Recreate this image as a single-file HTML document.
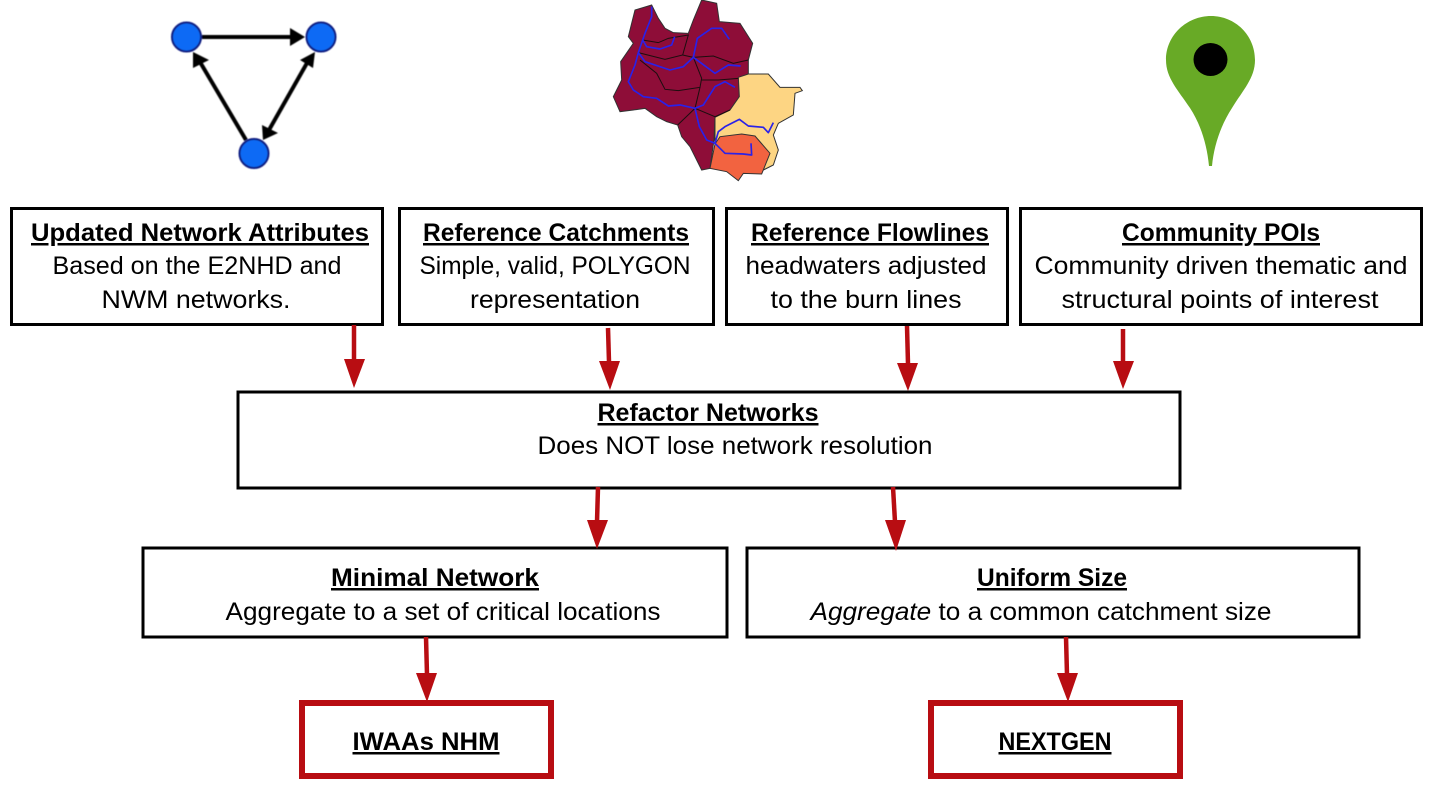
<!DOCTYPE html>
<html><head><meta charset="utf-8"><style>
html,body{margin:0;padding:0;background:#fff}
svg{display:block}
text{font-family:"Liberation Sans",sans-serif;font-size:25px;fill:#000;text-anchor:middle}
.b{font-weight:bold;text-decoration:underline}
</style></head><body>
<svg width="1433" height="796" viewBox="0 0 1433 796" xmlns="http://www.w3.org/2000/svg">
<defs>
<filter id="s" x="-5%" y="-5%" width="110%" height="110%"><feGaussianBlur stdDeviation="0.45"/></filter>
</defs>
<!-- graph icon -->
<g filter="url(#s)">
<g stroke="#000" stroke-width="4" fill="none">
<line x1="202" y1="37" x2="293" y2="37"/>
<line x1="246" y1="140" x2="200" y2="62"/>
<line x1="269" y1="130" x2="307" y2="63"/>
</g>
<g fill="#000">
<path d="M305,37L290,28V46Z"/>
<path d="M193,52L209,60L193,68Z"/>
<path d="M315,52L300,60L313,68Z"/>
<path d="M263,140L262,125L278,133Z"/>
</g>
<g fill="#0a6bf5" stroke="#0a1a80" stroke-width="2">
<circle cx="186.500" cy="37" r="14.500"/>
<circle cx="321" cy="37" r="14.500"/>
<circle cx="254" cy="153.500" r="14.500"/>
</g>
</g>
<!-- map -->
<g transform="translate(600,0) scale(.33333)" filter="url(#s)">
<path d="M155,15L175,55L195,85L220,98L265,100L280,60L305,0L350,10L358,65L420,70L458,130L445,180L445,222L415,235L418,290L390,330L345,352L342,420L330,505L305,510L270,440L245,410L233,375L200,365L170,350L135,325L100,330L60,335L40,290L65,240L62,185L100,130L85,110L105,30Z" fill="#8e0a38" stroke="#333" stroke-width="3"/>
<path d="M415,232L445,222L505,222L540,262L600,262L607,272L585,280L580,345L535,370L520,405L535,450L520,495L490,510L345,430L345,352L390,330L418,290Z" fill="#fdd583" stroke="#333" stroke-width="3"/>
<path d="M345,432L360,410L425,402L465,408L510,460L485,522L430,520L415,542L380,515L330,505Z" fill="#f26340" stroke="#333" stroke-width="3"/>
<g fill="none" stroke="#1a0a10" stroke-width="3">
<path d="M128,120L175,128L205,115L265,105L248,165L195,178L115,158"/>
<path d="M248,165L280,172L340,168L400,190L445,180"/>
<path d="M280,172L305,235L300,262L235,272L195,268L170,220L120,180"/>
<path d="M305,240L355,240L415,235"/>
<path d="M300,262L285,325L345,350L390,330"/>
<path d="M285,325L233,375"/>
</g>
<g fill="none" stroke="#2a20e8" stroke-width="5" stroke-linejoin="round">
<path d="M155,20L155,50L135,100L128,120L115,158L105,195L85,245L100,270L130,290L170,295L205,318L240,315L285,325L298,380L320,420L345,430L375,460L430,462L455,465L453,430"/>
<path d="M128,120L140,140L180,147L215,135L224,110"/>
<path d="M115,158L135,185L210,210L250,200L280,172L292,115L335,85L365,85L388,118"/>
<path d="M280,172L345,220L385,195L422,198"/>
<path d="M285,325L310,315L345,260L375,245L405,262"/>
<path d="M345,430L355,395L375,380L418,358L445,378L490,382L505,398L520,368"/>
</g>
</g>
<!-- pin -->
<path d="M1211,16C1187,16 1166,35 1166,60C1166,78 1178,90 1190,108C1201,125 1207,145 1209,166H1212C1214,145 1221,125 1232,108C1243,90 1255,78 1255,60C1255,35 1235,16 1211,16Z" fill="#68aa26"/>
<ellipse cx="1210.500" cy="59.500" rx="17" ry="16.500" fill="#000"/>
<!-- boxes -->
<g fill="#fff" stroke="#000" stroke-width="3">
<rect x="11.500" y="208.500" width="371" height="116"/>
<rect x="399.500" y="208.500" width="314" height="116"/>
<rect x="726.500" y="208.500" width="281" height="116"/>
<rect x="1020.500" y="208.500" width="401" height="116"/>
<rect x="238" y="392" width="942" height="96"/>
<rect x="143" y="548" width="584" height="89"/>
<rect x="747" y="548" width="612" height="89"/>
</g>
<g fill="#fff" stroke="#b80d12" stroke-width="6">
<rect x="302" y="703" width="249" height="73"/>
<rect x="931" y="703" width="249" height="73"/>
</g>
<!-- red arrows -->
<g stroke="#b80d12" stroke-width="4.500">
<line x1="354" y1="325" x2="354" y2="362"/>
<line x1="608" y1="328" x2="609" y2="362"/>
<line x1="907" y1="326" x2="908" y2="364"/>
<line x1="1123" y1="329" x2="1123" y2="362"/>
<line x1="598" y1="487" x2="597" y2="522"/>
<line x1="893" y1="487" x2="895" y2="522"/>
<line x1="426" y1="637" x2="427" y2="675"/>
<line x1="1066" y1="637" x2="1067" y2="675"/>
</g>
<g fill="#b80d12">
<path d="M344,359H365L354,388Z"/>
<path d="M599,361H620L610,390Z"/>
<path d="M897,363H918L908,391Z"/>
<path d="M1113,361H1134L1123,389Z"/>
<path d="M587,520H608L597,549Z"/>
<path d="M885,520H906L896,551Z"/>
<path d="M416,673H437L427,702Z"/>
<path d="M1057,673H1078L1068,702Z"/>
</g>
<!-- text -->
<text class="b" x="200" y="241" textLength="338" lengthAdjust="spacingAndGlyphs">Updated Network Attributes</text>
<text x="197" y="274" textLength="289" lengthAdjust="spacingAndGlyphs">Based on the E2NHD and</text>
<text x="196" y="308" textLength="189" lengthAdjust="spacingAndGlyphs">NWM networks.</text>
<text class="b" x="556" y="241" textLength="266" lengthAdjust="spacingAndGlyphs">Reference Catchments</text>
<text x="555" y="274" textLength="271" lengthAdjust="spacingAndGlyphs">Simple, valid, POLYGON</text>
<text x="555" y="308" textLength="170" lengthAdjust="spacingAndGlyphs">representation</text>
<text class="b" x="870" y="241" textLength="238" lengthAdjust="spacingAndGlyphs">Reference Flowlines</text>
<text x="866" y="274" textLength="241" lengthAdjust="spacingAndGlyphs">headwaters adjusted</text>
<text x="866" y="308" textLength="191" lengthAdjust="spacingAndGlyphs">to the burn lines</text>
<text class="b" x="1221" y="241" textLength="198" lengthAdjust="spacingAndGlyphs">Community POIs</text>
<text x="1221" y="274" textLength="373" lengthAdjust="spacingAndGlyphs">Community driven thematic and</text>
<text x="1220" y="308" textLength="317" lengthAdjust="spacingAndGlyphs">structural points of interest</text>
<text class="b" x="708" y="421" textLength="221" lengthAdjust="spacingAndGlyphs">Refactor Networks</text>
<text x="735" y="454" textLength="395" lengthAdjust="spacingAndGlyphs">Does NOT lose network resolution</text>
<text class="b" x="435" y="586" textLength="208" lengthAdjust="spacingAndGlyphs">Minimal Network</text>
<text x="443" y="620" textLength="435" lengthAdjust="spacingAndGlyphs">Aggregate to a set of critical locations</text>
<text class="b" x="1052" y="586" textLength="150" lengthAdjust="spacingAndGlyphs">Uniform Size</text>
<text x="1041" y="620" textLength="461" lengthAdjust="spacingAndGlyphs"><tspan font-style="italic">Aggregate</tspan> to a common catchment size</text>
<text class="b" x="426" y="750" textLength="147" lengthAdjust="spacingAndGlyphs">IWAAs NHM</text>
<text class="b" x="1055" y="750" textLength="113" lengthAdjust="spacingAndGlyphs">NEXTGEN</text>
</svg>
</body></html>
